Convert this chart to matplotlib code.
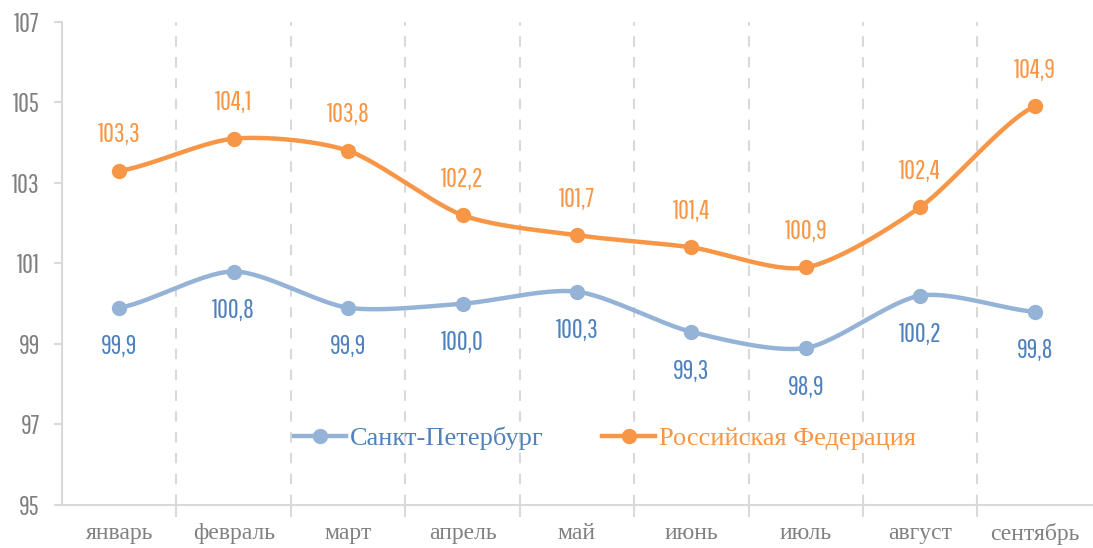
import matplotlib.pyplot as plt
import numpy as np

months = ["январь", "февраль", "март", "апрель", "май", "июнь", "июль", "август", "сентябрь"]
spb = [99.9, 100.8, 99.9, 100.0, 100.3, 99.3, 98.9, 100.2, 99.8]
rf = [103.3, 104.1, 103.8, 102.2, 101.7, 101.4, 100.9, 102.4, 104.9]
yticks = [95, 97, 99, 101, 103, 105, 107]

BLUE_LINE = "#95B3D7"
BLUE_TEXT = "#4F81BD"
ORANGE = "#F79646"
GRAY = "#808080"
GRID = "#D9D9D9"

narrow = ["Pathway Gothic One", "DejaVu Sans"]
serif = ["Liberation Serif", "DejaVu Serif"]


def smooth(xs, ys, n=30):
    # catmull-rom spline through the points, similar to Excel smoothing
    xs = np.asarray(xs, float)
    ys = np.asarray(ys, float)
    px = np.concatenate([[2 * xs[0] - xs[1]], xs, [2 * xs[-1] - xs[-2]]])
    py = np.concatenate([[ys[0]], ys, [ys[-1]]])
    out_x, out_y = [], []
    t = np.linspace(0, 1, n)
    for i in range(1, len(px) - 2):
        for p, o in ((px, out_x), (py, out_y)):
            p0, p1, p2, p3 = p[i - 1], p[i], p[i + 1], p[i + 2]
            m1 = (p2 - p0) / 2 * 0.8
            m2 = (p3 - p1) / 2 * 0.8
            h00 = 2 * t**3 - 3 * t**2 + 1
            h10 = t**3 - 2 * t**2 + t
            h01 = -2 * t**3 + 3 * t**2
            h11 = t**3 - t**2
            o.extend(h00 * p1 + h10 * m1 + h01 * p2 + h11 * m2)
    return np.array(out_x), np.array(out_y)


fig = plt.figure(figsize=(10.93, 5.48), dpi=100)
ax = fig.add_axes([0.0567, 0.0785, 0.9423, 0.8815])

x = np.arange(len(months))
for ys, col in ((spb, BLUE_LINE), (rf, ORANGE)):
    sx, sy = smooth(x, ys)
    ax.plot(sx, sy, color=col, lw=3.2, solid_capstyle="round", zorder=3)
    ax.plot(x, ys, "o", color=col, ms=10, zorder=4)

for xi, v in zip(x, spb):
    ax.annotate(f"{v:.1f}".replace(".", ","), (xi, v), xytext=(0, -19), textcoords="offset points",
                ha="center", va="top", color=BLUE_TEXT, fontsize=19, family=narrow)
for xi, v in zip(x, rf):
    ax.annotate(f"{v:.1f}".replace(".", ","), (xi, v), xytext=(0, 17), textcoords="offset points",
                ha="center", va="bottom", color=ORANGE, fontsize=19, family=narrow)

ax.set_xlim(-0.5, len(months) - 0.5)
ax.set_ylim(95, 107)
ax.set_yticks(yticks)
ax.set_yticklabels([str(t) for t in yticks], family=narrow, fontsize=19, color=GRAY)
ax.set_xticks(x)
ax.set_xticklabels(months, family=serif, fontsize=17, color=GRAY)
ax.tick_params(axis="x", length=0, pad=13)
ax.tick_params(axis="y", length=6, color=GRID, width=1.5, pad=10)

bounds = np.arange(0.5, len(months) - 0.5)
for b in bounds:
    ax.axvline(b, color=GRID, lw=1.5, ls=(0, (5, 5)), zorder=1)
    ax.plot([b, b], [0, -0.022], transform=ax.get_xaxis_transform(), color=GRID, lw=1.5, clip_on=False)

for s in ("top", "right"):
    ax.spines[s].set_visible(False)
for s in ("left", "bottom"):
    ax.spines[s].set_color(GRID)
    ax.spines[s].set_linewidth(1.5)

h1, = ax.plot([], [], "-o", color=BLUE_LINE, lw=3.2, ms=10)
h2, = ax.plot([], [], "-o", color=ORANGE, lw=3.2, ms=10)
leg = ax.legend([h1, h2], ["Санкт-Петербург", "Российская Федерация"], loc="center",
                bbox_to_anchor=(0.527, 0.138), ncol=2, frameon=False,
                prop={"family": serif, "size": 19}, handlelength=2.0, handletextpad=0.15,
                columnspacing=2.2)
for t, c in zip(leg.get_texts(), (BLUE_TEXT, ORANGE)):
    t.set_color(c)

fig.savefig("out.png", dpi=100)
